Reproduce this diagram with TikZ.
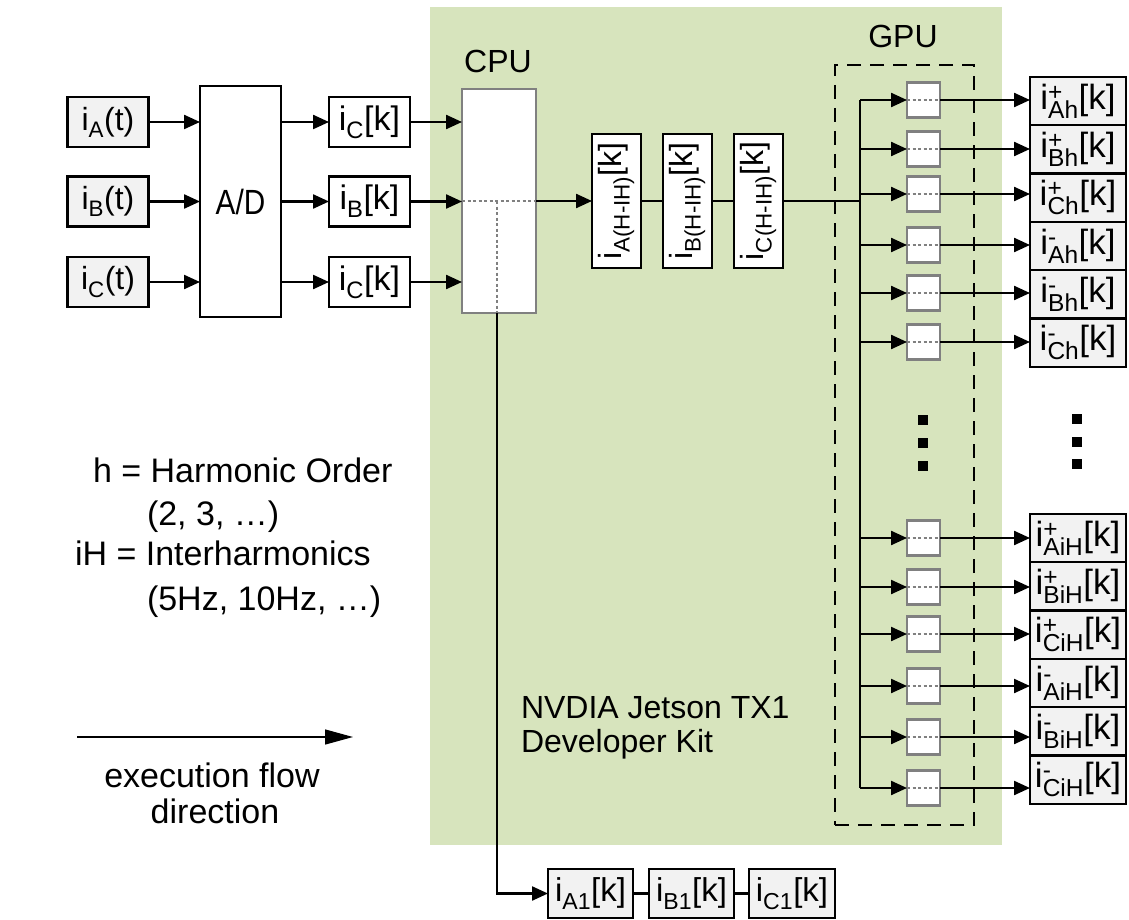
\documentclass[tikz,border=0pt]{standalone}
\usepackage{fontspec}
\setmainfont{Liberation Sans}
\usepackage{graphicx}
\usetikzlibrary{arrows.meta}
\definecolor{kitgreen}{HTML}{D7E4BD}
\definecolor{boxgray}{HTML}{F2F2F2}
\definecolor{cpugray}{HTML}{808080}
\begin{document}
\begin{tikzpicture}[x=1pt,y=-1pt,
  every node/.style={inner sep=0pt, outer sep=0pt},
  lbl/.style={font=\fontsize{32}{36}\selectfont},
  bigtxt/.style={font=\fontsize{32}{38}\selectfont},
  legtxt/.style={font=\fontsize{34}{40}\selectfont},
  bx/.style={draw=black, line width=2.3pt, fill=white, minimum height=50pt, minimum width=81pt, lbl},
  gbx/.style={bx, fill=boxgray},
  kbx/.style={bx, font=\fontsize{34}{38}\selectfont},
  outbox/.style={gbx, minimum width=96pt, minimum height=48.5pt, font=\fontsize{35}{38}\selectfont},
  vbox/.style={bx, minimum width=49pt, minimum height=134pt},
  gpucell/.style={draw=cpugray, line width=2.3pt, fill=white, minimum width=33pt, minimum height=35pt},
  arr/.style={line width=2.3pt, -{Triangle[length=16pt,width=14pt]}},
  ln/.style={line width=2.3pt},
  inner/.style={cpugray, line width=1.6pt, dash pattern=on 3pt off 2.5pt},
]
\useasboundingbox (0,0) rectangle (1129,920);
% kit background
\node[fill=kitgreen, minimum width=572pt, minimum height=838pt] (kit) at (716,426) {};
% inputs
\node[gbx] (ta) at (108,122) {i\textsubscript{A}(t)};
\node[gbx] (tb) at (108,201.5) {i\textsubscript{B}(t)};
\node[gbx] (tc) at (108,282) {i\textsubscript{C}(t)};
\node[bx, minimum width=81pt, minimum height=231pt, font=\fontsize{35}{38}\selectfont] (ad) at (240.5,201.5) {\scalebox{0.85}[1]{A/D}};
\node[kbx] (ka) at (369.5,122) {i\textsubscript{C}[k]};
\node[kbx] (kb) at (369.5,201.5) {i\textsubscript{B}[k]};
\node[kbx] (kc) at (369.5,282) {i\textsubscript{C}[k]};
\foreach \n in {a,b,c}{
  \draw[arr] (t\n) -- (t\n -| ad.west);
  \draw[arr] (ad.east |- k\n) -- (k\n);
}
% CPU
\node[draw=cpugray, line width=2.3pt, fill=white, minimum width=74pt, minimum height=224pt] (cpu) at (499,201) {};
\node[bigtxt, anchor=base] (cpulbl) at (498,73) {CPU};
\foreach \n in {a,b,c}{
  \draw[arr] (k\n) -- (k\n -| cpu.west);
}
\coordinate (cpuj) at (497,201);
\draw[inner] (cpu.west) -- (cpu.east);
\draw[inner] (cpuj) -- (cpuj |- cpu.south);
% vertical boxes
\node[vbox] (va) at (616.5,201) {\rotatebox{90}{i\textsubscript{A(H-IH)}[k]}};
\node[vbox] (vb) at (687.5,201) {\rotatebox{90}{i\textsubscript{B(H-IH)}[k]}};
\node[vbox] (vc) at (758.5,201) {\rotatebox{90}{i\textsubscript{C(H-IH)}[k]}};
\draw[arr] (cpu.east) -- (va.west);
\draw[ln] (va) -- (vb);
\draw[ln] (vb) -- (vc);
% GPU
\node[draw=black, line width=2.3pt, dash pattern=on 14pt off 9pt, minimum width=139pt, minimum height=760pt] (gpu) at (904.5,445) {};
\node[bigtxt, anchor=base] (gpulbl) at (903,48) {GPU};
\coordinate (bt) at (860,100);
\coordinate (bb) at (860,788);
\draw[ln] (bt) -- (bb);
\draw[ln] (vc.east) -- (vc.east -| bt);
\foreach \i/\gy/\oy/\lab in {
  1/100/101.2/{i\rlap{\textsuperscript{+}}\textsubscript{Ah}[k]},
  2/149/149.5/{i\rlap{\textsuperscript{+}}\textsubscript{Bh}[k]},
  3/194/197.8/{i\rlap{\textsuperscript{+}}\textsubscript{Ch}[k]},
  4/245/246.1/{i\rlap{\textsuperscript{-}}\textsubscript{Ah}[k]},
  5/293/294.4/{i\rlap{\textsuperscript{-}}\textsubscript{Bh}[k]},
  6/342/342.7/{i\rlap{\textsuperscript{-}}\textsubscript{Ch}[k]},
  7/538/538.2/{i\rlap{\textsuperscript{+}}\textsubscript{AiH}[k]},
  8/587/586.5/{i\rlap{\textsuperscript{+}}\textsubscript{BiH}[k]},
  9/634/634.8/{i\rlap{\textsuperscript{+}}\textsubscript{CiH}[k]},
  10/686/683.1/{i\rlap{\textsuperscript{-}}\textsubscript{AiH}[k]},
  11/737/731.4/{i\rlap{\textsuperscript{-}}\textsubscript{BiH}[k]},
  12/788/779.7/{i\rlap{\textsuperscript{-}}\textsubscript{CiH}[k]}}{
  \node[gpucell] (g\i) at (923.5,\gy) {};
  \node[outbox] (o\i) at (1078,\oy) {\lab};
  \draw[arr] (bt |- g\i) -- (g\i.west);
  \draw[inner] (g\i.west) -- (g\i.east);
  \draw[arr] (g\i.east) -- (g\i.east -| o\i.west);
}
% dots
\foreach \y in {420,443,466}{\fill (918,\y-5) rectangle (928,\y+5);}
\foreach \y in {419,442,464}{\fill (1072,\y-5) rectangle (1082,\y+5);}
% bottom outputs
\node[gbx, minimum width=85pt, minimum height=49pt, font=\fontsize{33}{38}\selectfont] (a1) at (590.5,893.5) {i\textsubscript{A1}[k]};
\node[gbx, minimum width=85pt, minimum height=49pt, font=\fontsize{33}{38}\selectfont] (b1) at (691.5,893.5) {i\textsubscript{B1}[k]};
\node[gbx, minimum width=86pt, minimum height=49pt, font=\fontsize{33}{38}\selectfont] (c1) at (792,893.5) {i\textsubscript{C1}[k]};
\draw[arr] (cpuj |- cpu.south) -- (cpuj |- a1) -- (a1.west);
\draw[ln] (a1) -- (b1);
\draw[ln] (b1) -- (c1);
% kit label
\node[bigtxt, anchor=base west] (kit1) at (521,718) {NVDIA Jetson TX1};
\node[bigtxt, anchor=base west] (kit2) at (521,752) {Developer Kit};
% legend
\node[legtxt, anchor=base west] (h1) at (93,482) {h = Harmonic Order};
\node[legtxt, anchor=base west] (h2) at (147,525) {(2, 3, …)};
\node[legtxt, anchor=base west] (ih1) at (75,565) {iH = Interharmonics};
\node[legtxt, anchor=base west] (ih2) at (147,610) {(5Hz, 10Hz, …)};
\coordinate (fl0) at (77,737);
\coordinate (fl1) at (353,737);
\draw[line width=1.3pt, -{Triangle[length=28pt,width=15pt]}] (fl0) -- (fl1);
\node[legtxt, anchor=base] (ex1) at (212,787) {execution flow};
\node[legtxt, anchor=base] (ex2) at (215,823) {direction};
\end{tikzpicture}
\end{document}
